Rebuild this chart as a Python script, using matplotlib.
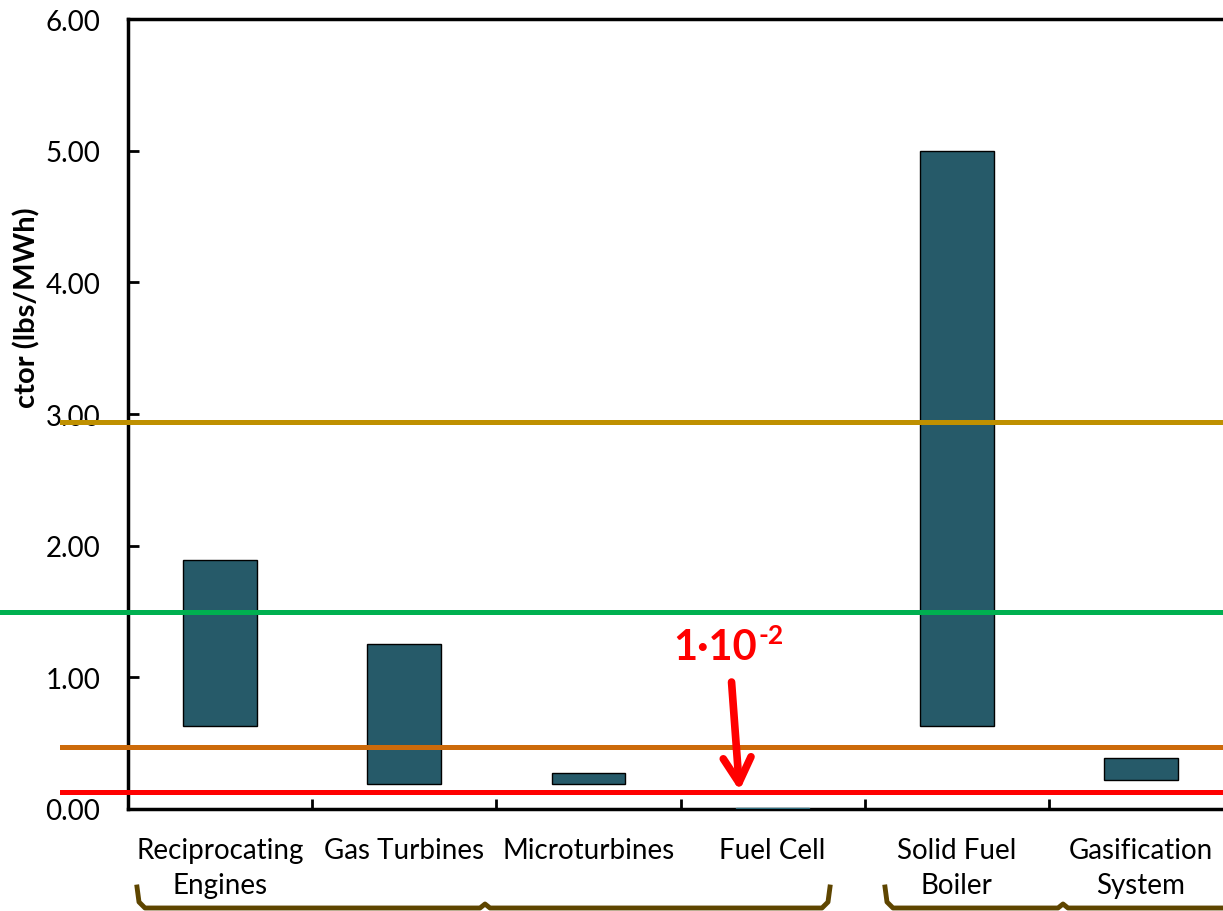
import matplotlib
matplotlib.use("Agg")
import matplotlib.pyplot as plt
from matplotlib.lines import Line2D
import numpy as np

# technologies and their emission factor ranges (lbs/MWh)
categories = ["Reciprocating\nEngines", "Gas Turbines", "Microturbines",
              "Fuel Cell", "Solid Fuel\nBoiler", "Gasification\nSystem"]
low_vals = [0.63, 0.19, 0.19, 0.00, 0.63, 0.22]
high_vals = [1.89, 1.25, 0.27, 0.01, 5.00, 0.39]

# reference lines
ref_levels = [2.94, 1.50, 0.47, 0.13]
ref_colors = ["#BF9000", "#00B050", "#CC6A0A", "#FF0000"]
ref_start_px = [62, 0, 62, 62]

W, H = 1223, 912
plt.rcParams['font.family'] = ['Lato', 'DejaVu Sans']
fig = plt.figure(figsize=(W / 100, H / 100), dpi=100)

ax_left, ax_right, ax_top, ax_bot = 128, 1233, 20, 810
ax = fig.add_axes([ax_left / W, 1 - ax_bot / H,
                   (ax_right - ax_left) / W, (ax_bot - ax_top) / H])

x = np.arange(len(categories))
heights = np.array(high_vals) - np.array(low_vals)
bars = ax.bar(x, heights, bottom=low_vals, width=0.4, color="#265A69",
              edgecolor="black", linewidth=1, zorder=2)
# the fuel cell range is so thin that only its fill shows
bars[3].set_edgecolor("#2E6E80")
bars[3].set_zorder(4)

ax.set_xlim(-0.5, len(categories) - 0.5)
ax.set_ylim(0, 6)
ax.set_yticks(np.arange(0, 6.01, 1.0))
ax.set_yticklabels([f"{v:.2f}" for v in np.arange(0, 6.01, 1.0)], fontsize=20)

# category boundaries as ticks, labels at centres
ax.set_xticks(np.arange(0.5, len(categories) - 0.5, 1.0))
ax.set_xticklabels([])
ax.set_xticks(x, minor=True)
ax.set_xticklabels(categories, minor=True, fontsize=20, linespacing=1.45)
ax.tick_params(axis='x', which='minor', length=0, pad=20)
ax.tick_params(axis='x', which='major', direction='in', length=7, width=2)
ax.tick_params(axis='y', direction='in', length=8, width=2, pad=20)

for side in ['left', 'bottom', 'top']:
    ax.spines[side].set_linewidth(2.5)
ax.spines['right'].set_visible(False)

# horizontal reference lines, extending past the axis to the left
ax_w = ax_right - ax_left
for lvl, col, start in zip(ref_levels, ref_colors, ref_start_px):
    ax.axhline(lvl, xmin=(start - ax_left) / ax_w, xmax=1.0, color=col,
               linewidth=3.6, clip_on=False, zorder=3)

# y label (cropped in original)
fig.text(27 / W, 1 - 308 / H, "ctor (lbs/MWh)", rotation=90, fontsize=21,
         fontweight='bold', ha='center', va='center')

# red annotation
fig.text(757 / W, 1 - 648 / H, "1\u00b710", color="#FF0000",
         fontsize=30, fontweight='bold', ha='right', va='center')
fig.text(759 / W, 1 - 636 / H, "-2", color="#FF0000",
         fontsize=19, fontweight='bold', ha='left', va='center')
ax.annotate("", xy=(3 - 0.5 + (740 - 681) / 184, 0.14),
            xytext=(3 - 0.5 + (732 - 681) / 184, (810 - 683) / 131.7),
            arrowprops=dict(arrowstyle="->,head_length=1.8,head_width=1.0",
                            color="#FF0000", lw=5.5, shrinkA=0, shrinkB=0,
                            capstyle='round', joinstyle='round'),
            zorder=4)

# brackets grouping the technologies
br_col = "#5E4500"
def bracket(x0, x1, xm):
    ys = [888, 903, 909, 909, 905, 909, 909, 903, 888]
    xs = [x0, x0 + 2, x0 + 8, xm - 5, xm, xm + 5, x1 - 8, x1 - 2, x1]
    fig.add_artist(Line2D([v / W for v in xs], [1 - v / H for v in ys],
                          color=br_col, linewidth=3.5,
                          transform=fig.transFigure))

bracket(137, 830, 485)
bracket(885, 1245, 1063)

fig.savefig("out.png", dpi=100)
